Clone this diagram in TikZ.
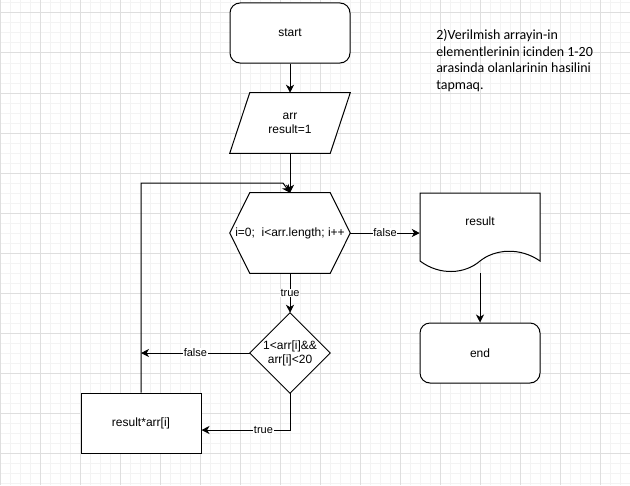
\documentclass[tikz,border=0pt]{standalone}
\usepackage{fontspec}
\setmainfont{Liberation Sans}
\newfontfamily\notefont{Carlito}
\usetikzlibrary{arrows.meta}
\definecolor{gridminor}{HTML}{F3F3F3}
\definecolor{gridmajor}{HTML}{DEDEDE}
\pgfdeclarelayer{gridlayer}
\pgfdeclarelayer{background}
\pgfsetlayers{gridlayer,background,main}
\begin{document}
\begin{tikzpicture}[x=0.75pt,y=-0.75pt,
  shapebox/.style={draw=none, minimum width=90pt, minimum height=45pt, inner sep=0pt,
    font=\fontsize{9}{10.5}\selectfont, align=center},
  framed/.style={draw=black, fill=white, line width=0.75pt},
  outline/.style={draw=black, fill=white, line width=0.75pt, line join=miter},
  conn/.style={line width=0.75pt, -{Stealth[length=6pt,width=6pt,inset=1.8pt]}},
  elabel/.style={fill=white, inner sep=0.6pt, font=\fontsize{8.25}{10}\selectfont},
]
\useasboundingbox (0,0) rectangle (630,485);
\begin{pgfonlayer}{gridlayer}
  \fill[white] (0,0) rectangle (630,485);
  \foreach \x in {10,20,...,630} \draw[gridminor, line width=0.75pt] (\x,0) -- (\x,485);
  \foreach \y in {3,13,...,483} \draw[gridminor, line width=0.75pt] (0,\y) -- (630,\y);
  \foreach \x in {0,40,...,600} \draw[gridmajor, line width=0.75pt] (\x,0) -- (\x,485);
  \foreach \y in {13,53,...,453} \draw[gridmajor, line width=0.75pt] (0,\y) -- (630,\y);
\end{pgfonlayer}

% nodes
\node[shapebox, framed, rounded corners=7.5pt] (start) at (290,33) {start};
\node[shapebox] (par) at (290,123) {arr\\result=1};
\node[shapebox, minimum height=60pt] (hex) at (290,233) {i=0;\ \ i<arr.length; i++};
\node[shapebox, minimum height=60pt] (doc) at (480,233) {};
\node[font=\fontsize{9}{10.5}\selectfont, inner sep=0pt] (doctext) at (480,221) {result};
\node[shapebox, framed, rounded corners=7.5pt] (finish) at (480,353) {end};
\node[shapebox, minimum width=60pt, minimum height=60pt] (dia) at (290,353) {1<arr[i]\&\&\\arr[i]<20};
\node[shapebox, framed] (calc) at (141,423) {result*arr[i]};
\node[anchor=north west, inner sep=0pt, align=left,
  font=\notefont\fontsize{10.5}{12.5}\selectfont] (note) at (436,29)
  {2)Verilmish arrayin-in\\elementlerinin icinden 1-20\\arasinda olanlarinin hasilini\\tapmaq.};

% outlines
\begin{pgfonlayer}{background}
  \draw[outline] ([xshift=15pt]par.north west) -- (par.north east)
    -- ([xshift=-15pt]par.south east) -- (par.south west) -- cycle;
  \draw[outline] ([xshift=15pt]hex.north west) -- ([xshift=-15pt]hex.north east)
    -- (hex.east) -- ([xshift=-15pt]hex.south east) -- ([xshift=15pt]hex.south west)
    -- (hex.west) -- cycle;
  \draw[outline] (dia.north) -- (dia.east) -- (dia.south) -- (dia.west) -- cycle;
  \draw[outline] (420,261) -- (420,193) -- (540,193) -- (540,261)
    .. controls (520,247) and (495,249) .. (480,261)
    .. controls (465,274) and (440,276) .. (420,261) -- cycle;
\end{pgfonlayer}

% connectors
\coordinate (loopc) at (283,183);
\coordinate (calcin) at ([yshift=-5.25pt]calc.east);
\draw[conn] (start.south) -- (par.north);
\draw[conn] (par.south) -- (hex.north);
\draw[conn] (hex.east) -- node[elabel]{false} (doc.west);
\draw[conn] (doc.south) -- (finish.north);
\draw[conn] (hex.south) -- node[elabel]{true} (dia.north);
\draw[conn] (dia.west) -- node[elabel]{false} (dia.west -| calc.north);
\draw[conn] (dia.south) |- node[elabel, pos=0.65]{true} (calcin);
\draw[conn] (calc.north) |- (loopc) -- (hex.north);
\end{tikzpicture}
\end{document}
